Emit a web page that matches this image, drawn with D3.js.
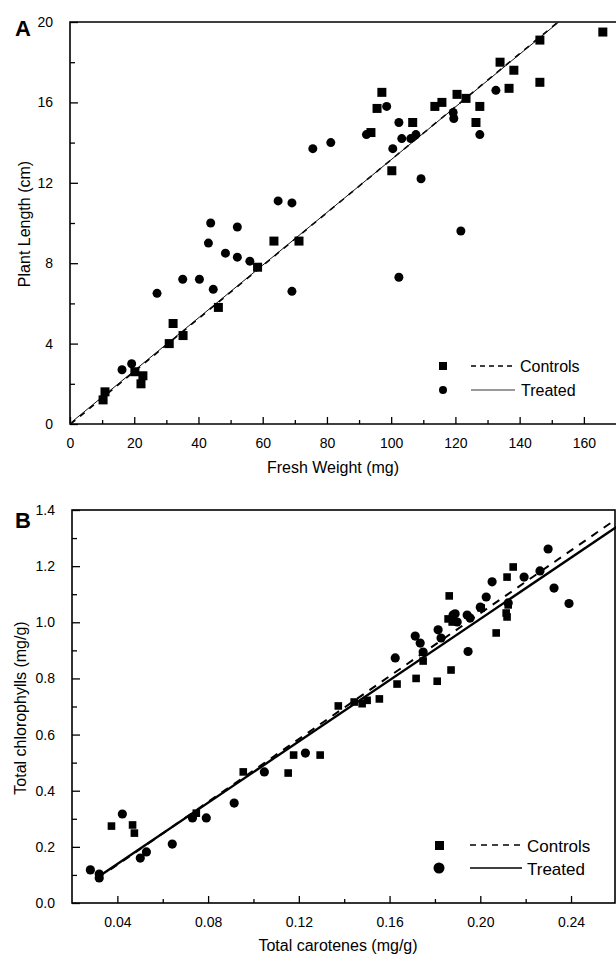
<!DOCTYPE html>
<html>
<head>
<meta charset="utf-8">
<script src="https://cdn.jsdelivr.net/npm/d3@7"></script>
<style>
  body { margin: 0; background: #fff; }
  text { font-family: "Liberation Sans", Arial, sans-serif; fill: #000; }
</style>
</head>
<body>
<svg id="chart" width="616" height="961"></svg>
<script>
// ---- Panel A data: fresh weight (mg) vs plant length (cm)
var aControlsX = [10.3, 10.9, 20.2, 22.7, 22.1, 30.9, 32.1, 35.2, 46.2, 58.4, 63.5, 71.3,
                  93.7, 95.6, 97.1, 100.2, 106.7, 113.6, 115.8, 120.5, 123.3, 126.4, 127.6,
                  133.9, 136.7, 138.2, 146.3, 146.3, 165.9];
var aControlsY = [1.2, 1.6, 2.6, 2.4, 2.0, 4.0, 5.0, 4.4, 5.8, 7.8, 9.1, 9.1,
                  14.5, 15.7, 16.5, 12.6, 15.0, 15.8, 16.0, 16.4, 16.2, 15.0, 15.8,
                  18.0, 16.7, 17.6, 19.1, 17.0, 19.5];
var aTreatedX = [16.2, 19.2, 27.1, 35.1, 40.3, 43.1, 43.8, 44.6, 48.4, 52.1, 52.1, 56.0,
                 64.8, 69.1, 69.1, 75.6, 81.2, 92.3, 98.6, 100.5, 102.4, 102.4, 103.3,
                 106.1, 107.7, 109.3, 119.3, 119.5, 121.7, 127.6, 132.6];
var aTreatedY = [2.7, 3.0, 6.5, 7.2, 7.2, 9.0, 10.0, 6.7, 8.5, 8.3, 9.8, 8.1,
                 11.1, 11.0, 6.6, 13.7, 14.0, 14.4, 15.8, 13.7, 15.0, 7.3, 14.2,
                 14.2, 14.4, 12.2, 15.5, 15.2, 9.6, 14.4, 16.6];
var aTicksX = [0, 20, 40, 60, 80, 100, 120, 140, 160];
var aTicksY = [0, 4, 8, 12, 16, 20];
// fitted lines: [slope, intercept]
var aFitControls = [0.1318, -0.03];
var aFitTreated = [0.1312, 0.03];

// ---- Panel B data: total carotenes vs total chlorophylls (mg/g)
var bControlsX = [0.0374, 0.0467, 0.0475, 0.0748, 0.0955, 0.1153, 0.1177, 0.1294,
                  0.1374, 0.1444, 0.1479, 0.1501, 0.1555, 0.1633, 0.1717, 0.1748, 0.1810,
                  0.1858, 0.1863, 0.1871, 0.1876, 0.2004, 0.2070, 0.2114, 0.2118, 0.2118,
                  0.2123, 0.2145];
var bControlsY = [0.274, 0.278, 0.249, 0.320, 0.467, 0.463, 0.527, 0.527,
                  0.702, 0.716, 0.710, 0.722, 0.727, 0.780, 0.800, 0.862, 0.790,
                  1.012, 1.094, 0.830, 1.001, 1.051, 0.962, 1.033, 1.019, 1.161,
                  1.062, 1.197];
var bTreatedX = [0.0281, 0.0320, 0.0320, 0.0422, 0.0501, 0.0528, 0.0642, 0.0731, 0.0792,
                 0.0915, 0.1048, 0.1229, 0.1625, 0.1713, 0.1735, 0.1748, 0.1814, 0.1827,
                 0.1880, 0.1889, 0.1898, 0.1942, 0.1946, 0.1955, 0.2000, 0.2026, 0.2052,
                 0.2123, 0.2193, 0.2263, 0.2299, 0.2325, 0.2391];
var bTreatedY = [0.118, 0.103, 0.089, 0.317, 0.160, 0.182, 0.210, 0.303, 0.303,
                 0.356, 0.467, 0.534, 0.873, 0.951, 0.926, 0.894, 0.973, 0.944,
                 1.026, 1.030, 1.001, 1.026, 0.896, 1.015, 1.054, 1.090, 1.144,
                 1.069, 1.161, 1.183, 1.261, 1.122, 1.067];
var bTicksX = [0.04, 0.08, 0.12, 0.16, 0.20, 0.24];
var bTicksY = [0.0, 0.2, 0.4, 0.6, 0.8, 1.0, 1.2, 1.4];
var bFitControls = [5.6, -0.088];
var bFitTreated = [5.454, -0.079];
var bFitRangeControls = [0.037, 0.26];
var bFitRangeTreated = [0.031, 0.26];

var legendLabels = ["Controls", "Treated"];

var svg = d3.select("#chart");

// ---------- Panel A ----------
var ax = d3.scaleLinear().domain([0, 170]).range([70, 616]);
var ay = d3.scaleLinear().domain([0, 20]).range([424, 22]);
var gA = svg.append("g");

// frame: left, top, bottom (right edge is cropped)
gA.append("path")
    .attr("d", "M" + ax(170) + "," + ay(20) + "H" + ax(0) + "V" + ay(0) + "H" + ax(170))
    .attr("fill", "none").attr("stroke", "#000").attr("stroke-width", 1.6);

// x axis ticks (inward)
gA.append("g").attr("transform", "translate(0," + ay(0) + ")")
    .call(d3.axisBottom(ax).tickValues(d3.range(10, 170, 20)).tickSize(-4).tickFormat(""))
    .call(function(g) { g.select(".domain").remove(); g.selectAll("line").attr("stroke-width", 1.3); });
gA.append("g").attr("transform", "translate(0," + ay(0) + ")")
    .call(d3.axisBottom(ax).tickValues(aTicksX).tickSize(-7).tickPadding(14).tickFormat(d3.format("d")))
    .call(function(g) {
        g.select(".domain").remove();
        g.selectAll("line").attr("stroke-width", 1.3);
        g.selectAll("text").attr("font-size", 14).attr("font-family", "Liberation Sans, Arial, sans-serif");
    });
// y axis ticks
gA.append("g").attr("transform", "translate(" + ax(0) + ",0)")
    .call(d3.axisLeft(ay).tickValues([2, 6, 10, 14, 18]).tickSize(-5).tickFormat(""))
    .call(function(g) { g.select(".domain").remove(); g.selectAll("line").attr("stroke-width", 1.3); });
gA.append("g").attr("transform", "translate(" + ax(0) + ",0)")
    .call(d3.axisLeft(ay).tickValues(aTicksY).tickSize(-8).tickPadding(17).tickFormat(d3.format("d")))
    .call(function(g) {
        g.select(".domain").remove();
        g.selectAll("line").attr("stroke-width", 1.3);
        g.selectAll("text").attr("font-size", 14).attr("font-family", "Liberation Sans, Arial, sans-serif");
    });

// fit lines, from origin up to top of plot
function fitLine(fit, x0, xmax, ymax) {
    var x1 = Math.min(xmax, (ymax - fit[1]) / fit[0]);
    var y0 = Math.max(0, fit[0] * x0 + fit[1]);
    x0 = (y0 - fit[1]) / fit[0];
    return [[x0, y0], [x1, fit[0] * x1 + fit[1]]];
}
var lineA = d3.line().x(function(d) { return ax(d[0]); }).y(function(d) { return ay(d[1]); });
gA.append("path").datum(fitLine(aFitControls, 0, 170, 20))
    .attr("d", lineA).attr("fill", "none").attr("stroke", "#000").attr("stroke-width", 1.6)
    .attr("stroke-dasharray", "6,6");
gA.append("path").datum(fitLine(aFitTreated, 0, 170, 20))
    .attr("d", lineA).attr("fill", "none").attr("stroke", "#111").attr("stroke-width", 1);

gA.selectAll("rect.pt").data(d3.zip(aControlsX, aControlsY)).enter().append("rect")
    .attr("x", function(d) { return ax(d[0]) - 4.5; })
    .attr("y", function(d) { return ay(d[1]) - 4.5; })
    .attr("width", 9).attr("height", 9).attr("fill", "#000");
gA.selectAll("circle.pt").data(d3.zip(aTreatedX, aTreatedY)).enter().append("circle")
    .attr("cx", function(d) { return ax(d[0]); })
    .attr("cy", function(d) { return ay(d[1]); })
    .attr("r", 4.5).attr("fill", "#000");

// labels
gA.append("text").attr("x", 15).attr("y", 36).attr("font-size", 22).attr("font-weight", "bold").text("A");
gA.append("text").attr("x", 333).attr("y", 473).attr("text-anchor", "middle").attr("font-size", 16)
    .text("Fresh Weight (mg)");
gA.append("text").attr("transform", "translate(30,224) rotate(-90)").attr("text-anchor", "middle")
    .attr("font-size", 16).text("Plant Length (cm)");

// legend A
gA.append("rect").attr("x", 439).attr("y", 362).attr("width", 8).attr("height", 8).attr("fill", "#000");
gA.append("line").attr("x1", 471).attr("x2", 515).attr("y1", 366).attr("y2", 366)
    .attr("stroke", "#000").attr("stroke-width", 1.3).attr("stroke-dasharray", "5,4");
gA.append("text").attr("x", 520).attr("y", 372).attr("font-size", 16).text(legendLabels[0]);
gA.append("circle").attr("cx", 443).attr("cy", 390).attr("r", 4).attr("fill", "#000");
gA.append("line").attr("x1", 471).attr("x2", 515).attr("y1", 390).attr("y2", 390)
    .attr("stroke", "#777").attr("stroke-width", 1.3);
gA.append("text").attr("x", 521).attr("y", 396).attr("font-size", 16).text(legendLabels[1]);

// ---------- Panel B ----------
var bx = d3.scaleLinear().domain([0.02, 0.26]).range([72, 616.4]);
var by = d3.scaleLinear().domain([0, 1.4]).range([903, 510]);
var gB = svg.append("g");

gB.append("rect").attr("x", bx(0.02)).attr("y", by(1.4))
    .attr("width", 615 - bx(0.02)).attr("height", by(0) - by(1.4))
    .attr("fill", "none").attr("stroke", "#000").attr("stroke-width", 1.6);

gB.append("g").attr("transform", "translate(0," + by(0) + ")")
    .call(d3.axisBottom(bx).tickValues([0.06, 0.10, 0.14, 0.18, 0.22]).tickSize(-4).tickFormat(""))
    .call(function(g) { g.select(".domain").remove(); g.selectAll("line").attr("stroke-width", 1.3); });
gB.append("g").attr("transform", "translate(0," + by(0) + ")")
    .call(d3.axisBottom(bx).tickValues(bTicksX).tickSize(-7).tickPadding(14).tickFormat(d3.format(".2f")))
    .call(function(g) {
        g.select(".domain").remove();
        g.selectAll("line").attr("stroke-width", 1.3);
        g.selectAll("text").attr("font-size", 14).attr("font-family", "Liberation Sans, Arial, sans-serif");
    });
gB.append("g").attr("transform", "translate(" + bx(0.02) + ",0)")
    .call(d3.axisLeft(by).tickValues([0.1, 0.3, 0.5, 0.7, 0.9, 1.1, 1.3]).tickSize(-5).tickFormat(""))
    .call(function(g) { g.select(".domain").remove(); g.selectAll("line").attr("stroke-width", 1.3); });
gB.append("g").attr("transform", "translate(" + bx(0.02) + ",0)")
    .call(d3.axisLeft(by).tickValues(bTicksY).tickSize(-8).tickPadding(17).tickFormat(d3.format(".1f")))
    .call(function(g) {
        g.select(".domain").remove();
        g.selectAll("line").attr("stroke-width", 1.3);
        g.selectAll("text").attr("font-size", 14).attr("font-family", "Liberation Sans, Arial, sans-serif");
    });

var lineB = d3.line().x(function(d) { return bx(d[0]); }).y(function(d) { return by(d[1]); });
function fitSeg(fit, r) {
    return r.map(function(x) { return [x, fit[0] * x + fit[1]]; });
}
gB.append("path").datum(fitSeg(bFitControls, bFitRangeControls))
    .attr("d", lineB).attr("fill", "none").attr("stroke", "#000").attr("stroke-width", 2)
    .attr("stroke-dasharray", "8,7");
gB.append("path").datum(fitSeg(bFitTreated, bFitRangeTreated))
    .attr("d", lineB).attr("fill", "none").attr("stroke", "#000").attr("stroke-width", 2.4);

gB.selectAll("rect.pt").data(d3.zip(bControlsX, bControlsY)).enter().append("rect")
    .attr("x", function(d) { return bx(d[0]) - 3.8; })
    .attr("y", function(d) { return by(d[1]) - 3.8; })
    .attr("width", 7.6).attr("height", 7.6).attr("fill", "#000");
gB.selectAll("circle.pt").data(d3.zip(bTreatedX, bTreatedY)).enter().append("circle")
    .attr("cx", function(d) { return bx(d[0]); })
    .attr("cy", function(d) { return by(d[1]); })
    .attr("r", 4.6).attr("fill", "#000");

gB.append("text").attr("x", 15).attr("y", 528).attr("font-size", 22).attr("font-weight", "bold").text("B");
gB.append("text").attr("x", 338).attr("y", 951).attr("text-anchor", "middle").attr("font-size", 16)
    .text("Total carotenes (mg/g)");
gB.append("text").attr("transform", "translate(26,708) rotate(-90)").attr("text-anchor", "middle")
    .attr("font-size", 16).text("Total chlorophylls (mg/g)");

// legend B
gB.append("rect").attr("x", 435).attr("y", 841).attr("width", 9).attr("height", 9).attr("fill", "#000");
gB.append("line").attr("x1", 470).attr("x2", 521).attr("y1", 845).attr("y2", 845)
    .attr("stroke", "#000").attr("stroke-width", 1.5).attr("stroke-dasharray", "6,5");
gB.append("text").attr("x", 527).attr("y", 852).attr("font-size", 17).text(legendLabels[0]);
gB.append("circle").attr("cx", 439).attr("cy", 868).attr("r", 5.5).attr("fill", "#000");
gB.append("line").attr("x1", 470).attr("x2", 522).attr("y1", 868).attr("y2", 868)
    .attr("stroke", "#000").attr("stroke-width", 1.5);
gB.append("text").attr("x", 527).attr("y", 875).attr("font-size", 17).text(legendLabels[1]);
</script>
</body>
</html>
